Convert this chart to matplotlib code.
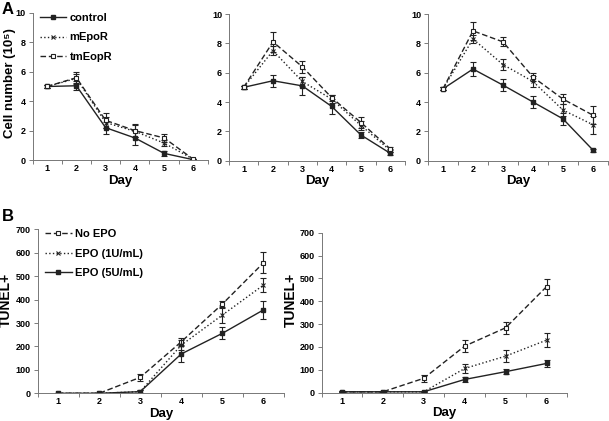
import matplotlib
matplotlib.use("Agg")
import matplotlib.pyplot as plt
import numpy as np

plt.rcParams['font.family'] = ['Liberation Sans', 'DejaVu Sans']
plt.rcParams['font.weight'] = 'bold'

days = [1, 2, 3, 4, 5, 6]

# Panel A (cell number, 10^5)
a_labels = ["control", "mEpoR", "tmEopR"]
a1_control = [5.0, 5.05, 2.2, 1.5, 0.45, 0.02]
a1_control_err = [0.1, 0.3, 0.4, 0.5, 0.15, 0.05]
a1_mepor = [5.0, 5.55, 2.55, 1.95, 1.15, 0.05]
a1_mepor_err = [0.1, 0.3, 0.4, 0.4, 0.2, 0.05]
a1_tmeopr = [5.0, 5.6, 2.7, 2.0, 1.5, 0.05]
a1_tmeopr_err = [0.1, 0.4, 0.5, 0.45, 0.25, 0.05]

a2_control = [5.0, 5.45, 5.1, 3.7, 1.75, 0.5]
a2_control_err = [0.1, 0.4, 0.6, 0.5, 0.2, 0.1]
a2_mepor = [5.0, 7.5, 5.4, 4.2, 2.4, 0.7]
a2_mepor_err = [0.1, 0.3, 0.3, 0.3, 0.3, 0.1]
a2_tmeopr = [5.0, 8.1, 6.4, 4.3, 2.6, 0.8]
a2_tmeopr_err = [0.1, 0.7, 0.4, 0.2, 0.35, 0.1]

a3_control = [4.9, 6.25, 5.15, 4.0, 2.85, 0.72]
a3_control_err = [0.1, 0.45, 0.4, 0.4, 0.4, 0.1]
a3_mepor = [4.9, 8.3, 6.55, 5.4, 3.45, 2.45]
a3_mepor_err = [0.1, 0.3, 0.4, 0.4, 0.4, 0.6]
a3_tmeopr = [4.9, 8.85, 8.1, 5.7, 4.2, 3.1]
a3_tmeopr_err = [0.1, 0.6, 0.3, 0.3, 0.35, 0.6]

# Panel B (TUNEL+)
b_labels = ["No EPO", "EPO (1U/mL)", "EPO (5U/mL)"]
b1_noepo = [0, 0, 68, 220, 381, 557]
b1_noepo_err = [2, 2, 15, 15, 15, 45]
b1_epo1 = [0, 0, 7, 206, 334, 462]
b1_epo1_err = [2, 2, 5, 20, 35, 30]
b1_epo5 = [0, 0, 7, 168, 256, 356]
b1_epo5_err = [2, 2, 5, 35, 25, 38]

b2_noepo = [4, 4, 63, 204, 284, 464]
b2_noepo_err = [2, 2, 15, 28, 25, 35]
b2_epo1 = [4, 4, 4, 106, 160, 230]
b2_epo1_err = [2, 2, 2, 20, 25, 30]
b2_epo5 = [4, 4, 4, 58, 92, 128]
b2_epo5_err = [2, 2, 2, 12, 10, 15]

W, H = 609, 421
fig = plt.figure(figsize=(W / 100, H / 100), dpi=100)


def add_ax(left, top, right, bottom):
    return fig.add_axes([left / W, 1 - bottom / H, (right - left) / W, (bottom - top) / H])


col = '#222222'
styles = {
    'solid': dict(linestyle='-', marker='s', mfc=col, mec=col, ms=3.5),
    'dotted': dict(linestyle=':', marker='x', mfc='none', mec=col, ms=3.5, mew=0.8),
    'dashed': dict(linestyle=(0, (4, 2)), marker='s', mfc='white', mec=col, ms=3.5, mew=0.8),
}


def plot_series(ax, y, err, style, label):
    st = styles[style]
    ax.errorbar(days, y, yerr=err, fmt='none', ecolor=col, elinewidth=0.8, capsize=2,
                capthick=0.8)
    ax.plot(days, y, color=col, lw=1.0, label=label, **st)


def style_axis(ax, ymax, ystep):
    ax.set_xlim(0.5, 6.5)
    ax.set_ylim(0, ymax)
    ax.set_yticks(np.arange(0, ymax + 0.001, ystep))
    ax.set_xticks(days)
    ax.set_xticks(np.arange(0.5, 6.6, 1.0), minor=True)
    ax.tick_params(axis='x', which='major', length=0, labelsize=6.5, pad=3)
    ax.tick_params(axis='x', which='minor', length=3, width=0.6, color='#666666')
    ax.tick_params(axis='y', length=3, width=0.6, labelsize=6.5, color='#666666', pad=2)
    for s in ['top', 'right']:
        ax.spines[s].set_visible(False)
    for s in ['left', 'bottom']:
        ax.spines[s].set_linewidth(0.7)
        ax.spines[s].set_color('#777777')
    for lab in ax.get_xticklabels() + ax.get_yticklabels():
        lab.set_fontweight('bold')
    ax.set_xlabel('Day', fontsize=9.5, fontweight='bold', labelpad=1)


leg_kw = dict(loc='upper left', frameon=False, prop={'size': 8, 'weight': 'bold'},
              handlelength=2.4, labelspacing=0.85, handletextpad=0.3, borderaxespad=0,
              borderpad=0)

# A1
ax = add_ax(32.5, 13, 208, 160)
plot_series(ax, a1_control, a1_control_err, 'solid', a_labels[0])
plot_series(ax, a1_mepor, a1_mepor_err, 'dotted', a_labels[1])
plot_series(ax, a1_tmeopr, a1_tmeopr_err, 'dashed', a_labels[2])
style_axis(ax, 10, 2)
ax.set_ylabel('Cell number (10\u2075)', fontsize=9.5, fontweight='bold')
ax.yaxis.set_label_coords(-0.095, 0.52)
ax.legend(bbox_to_anchor=(0.04, 1.0), **leg_kw)
fig.text(2 / W, 1 - 10 / H, 'A', fontsize=12, fontweight='bold', va='center')

# A2
ax = add_ax(229, 14, 405, 160.7)
plot_series(ax, a2_control, a2_control_err, 'solid', a_labels[0])
plot_series(ax, a2_mepor, a2_mepor_err, 'dotted', a_labels[1])
plot_series(ax, a2_tmeopr, a2_tmeopr_err, 'dashed', a_labels[2])
style_axis(ax, 10, 2)

# A3
ax = add_ax(428, 14, 608, 160.7)
plot_series(ax, a3_control, a3_control_err, 'solid', a_labels[0])
plot_series(ax, a3_mepor, a3_mepor_err, 'dotted', a_labels[1])
plot_series(ax, a3_tmeopr, a3_tmeopr_err, 'dashed', a_labels[2])
style_axis(ax, 10, 2)

# B1
ax = add_ax(37.5, 229.3, 284, 393.3)
plot_series(ax, b1_noepo, b1_noepo_err, 'dashed', b_labels[0])
plot_series(ax, b1_epo1, b1_epo1_err, 'dotted', b_labels[1])
plot_series(ax, b1_epo5, b1_epo5_err, 'solid', b_labels[2])
style_axis(ax, 700, 100)
ax.set_ylabel('TUNEL+', fontsize=10, fontweight='bold')
ax.yaxis.set_label_coords(-0.101, 0.57)
ax.legend(bbox_to_anchor=(0.03, 1.0), **leg_kw)
fig.text(2 / W, 1 - 216 / H, 'B', fontsize=12, fontweight='bold', va='center')

# B2
ax = add_ax(321.5, 232.7, 567, 392.7)
plot_series(ax, b2_noepo, b2_noepo_err, 'dashed', b_labels[0])
plot_series(ax, b2_epo1, b2_epo1_err, 'dotted', b_labels[1])
plot_series(ax, b2_epo5, b2_epo5_err, 'solid', b_labels[2])
style_axis(ax, 700, 100)
ax.set_ylabel('TUNEL+', fontsize=10, fontweight='bold')
ax.yaxis.set_label_coords(-0.098, 0.58)

fig.savefig('out.png', dpi=100)
